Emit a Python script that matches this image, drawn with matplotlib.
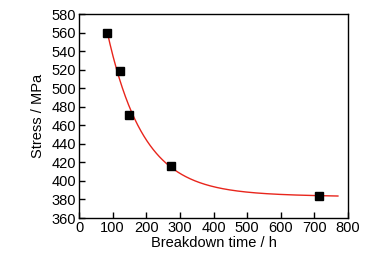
import numpy as np
import matplotlib
matplotlib.use("Agg")
import matplotlib.pyplot as plt

plt.rcParams['font.family'] = ['Liberation Sans', 'DejaVu Sans']

time_h = [83, 122, 149, 274, 714]
stress_mpa = [559.5, 519, 471, 416, 384]
x_ticks = [0, 100, 200, 300, 400, 500, 600, 700, 800]
y_ticks = list(range(360, 581, 20))

# exponential decay fit with slight linear term: y = y0 + A*exp(-x/t) + B*x
xd = np.array(time_h, float)
yd = np.array(stress_mpa, float)
best = None
for t in np.linspace(20, 400, 2000):
    M = np.column_stack([np.ones_like(xd), np.exp(-xd / t), xd])
    coef, *_ = np.linalg.lstsq(M, yd, rcond=None)
    err = np.sum((M @ coef - yd) ** 2)
    if best is None or err < best[0]:
        best = (err, t, coef)
_, tb, cb = best
xf = np.linspace(83, 770, 300)
yf = cb[0] + cb[1] * np.exp(-xf / tb) + cb[2] * xf

fig = plt.figure(figsize=(3.9, 2.56), dpi=100)
ax = fig.add_axes([79/390, 1 - 218/256, (348-79)/390, (218-14)/256])
ax.plot(xf, yf, color='#e8251c', lw=1.0, zorder=2)
ax.plot(time_h, stress_mpa, 's', color='black', ms=6, zorder=3)
ax.set_xlim(0, 800)
ax.set_ylim(360, 580)
ax.set_xticks(x_ticks)
ax.set_yticks(y_ticks)
ax.tick_params(direction='in', length=4, width=1, labelsize=10.5, pad=2)
for s in ax.spines.values():
    s.set_linewidth(1.0)
ax.set_xlabel('Breakdown time / h', fontsize=10.5, labelpad=1)
ax.set_ylabel('Stress / MPa', fontsize=10.5, labelpad=5)
fig.savefig('out.png', dpi=100)
